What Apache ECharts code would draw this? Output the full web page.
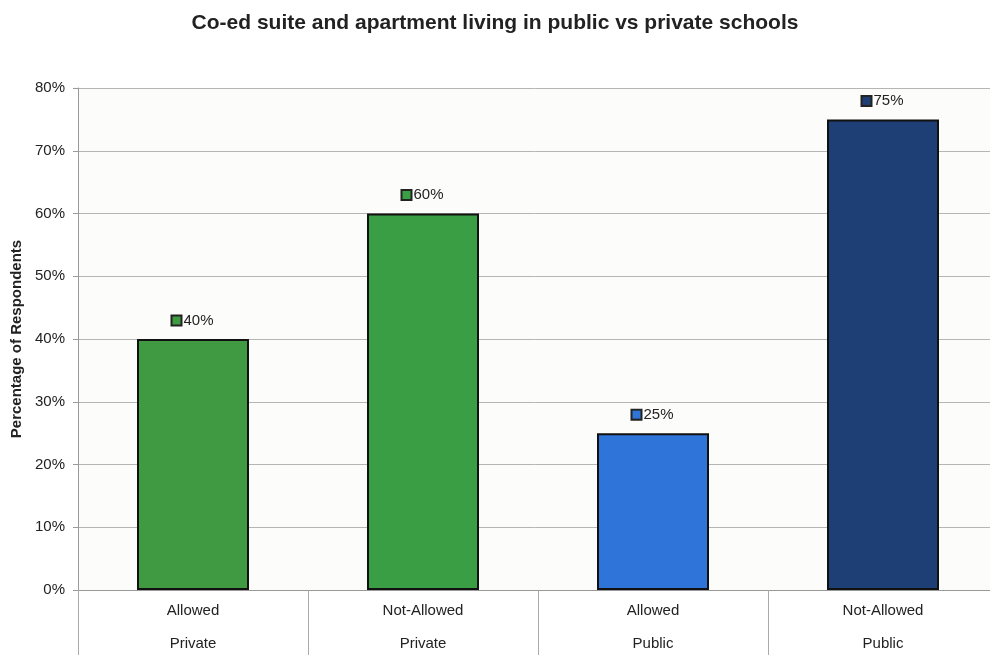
<!DOCTYPE html>
<html>
<head>
<meta charset="utf-8">
<script src="https://cdn.jsdelivr.net/npm/echarts@6/dist/echarts.min.js"></script>
<style>
  html, body { margin: 0; padding: 0; background: #ffffff; }
  #chart { width: 990px; height: 655px; }
</style>
</head>
<body>
<div id="chart"></div>
<script>
// Policy and school type for each bar
const policies = ['Allowed', 'Not-Allowed', 'Allowed', 'Not-Allowed'];
const schoolTypes = ['Private', 'Private', 'Public', 'Public'];
// Share of respondents (%)
const shares = [40, 60, 25, 75];
const barColors = ['#3f9a42', '#3a9e45', '#2f74d8', '#1e3f75'];
// Value axis ticks
const yMin = 0, yMax = 80, yStep = 10;

const font = '"Liberation Sans", Arial, sans-serif';

const chart = echarts.init(document.getElementById('chart'));

const seriesData = shares.map((v, i) => ({
  value: v,
  itemStyle: { color: barColors[i] },
  label: {
    rich: {
      k: {
        width: 8, height: 8,
        backgroundColor: barColors[i],
        borderColor: '#222', borderWidth: 2,
        padding: 0
      },
      v: { fontSize: 15, color: '#222', fontFamily: font, padding: [0, 0, 0, 3] }
    }
  }
}));

chart.setOption({
  backgroundColor: '#ffffff',
  animation: false,
  title: {
    text: 'Co-ed suite and apartment living in public vs private schools',
    left: 'center',
    top: 8,
    textStyle: { fontFamily: font, fontSize: 21, fontWeight: 'bold', color: '#222' }
  },
  grid: {
    left: 78, right: -8, top: 88, bottom: 65,
    outerBoundsMode: 'none',
    containLabel: false,
    show: true, backgroundColor: '#fcfcfa', borderWidth: 0
  },
  xAxis: [
    {
      type: 'category',
      data: policies,
      position: 'bottom',
      axisLine: { show: true, lineStyle: { color: '#999', width: 1 } },
      axisTick: { show: true, length: 66, lineStyle: { color: '#aaa' } },
      axisLabel: { margin: 13, fontSize: 15, color: '#222', fontFamily: font }
    },
    {
      type: 'category',
      data: schoolTypes,
      position: 'bottom',
      offset: 33,
      axisLine: { show: false },
      axisTick: { show: false },
      axisLabel: { margin: 13, fontSize: 15, color: '#222', fontFamily: font }
    }
  ],
  yAxis: {
    type: 'value',
    min: yMin, max: yMax, interval: yStep,
    name: 'Percentage of Respondents',
    nameLocation: 'middle',
    nameGap: 53,
    nameTextStyle: { fontFamily: font, fontSize: 15, fontWeight: 'bold', color: '#222' },
    axisLine: { show: true, lineStyle: { color: '#999' } },
    axisTick: { show: true, length: 5, lineStyle: { color: '#999' } },
    axisLabel: { formatter: '{value}%', fontSize: 15, color: '#222', fontFamily: font, margin: 13 },
    splitLine: { show: true, lineStyle: { color: '#b5b5b5', width: 1 } }
  },
  series: [{
    type: 'bar',
    xAxisIndex: 0,
    data: seriesData,
    barWidth: 112,
    itemStyle: { borderColor: '#111', borderWidth: 2 },
    label: {
      show: true,
      position: 'top',
      distance: 11,
      formatter: p => '{k|}{v|' + p.value + '%}'
    }
  }]
});
</script>
</body>
</html>
